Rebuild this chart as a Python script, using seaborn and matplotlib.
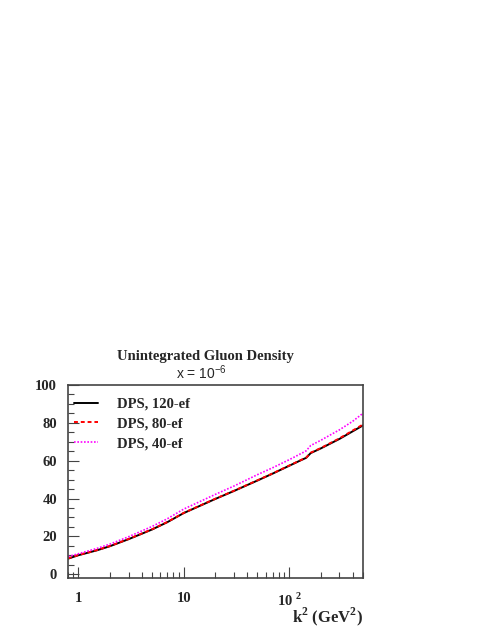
import numpy as np
import pandas as pd
import matplotlib
matplotlib.use("Agg")
import matplotlib.pyplot as plt
import seaborn as sns
from matplotlib.ticker import MultipleLocator, LogLocator, NullFormatter, FixedLocator

# data
k2 = [0.8, 1, 1.5, 2, 3, 5, 7, 10, 20, 30, 50, 70, 100, 130, 145, 160, 200, 300, 400, 500]
dps_120 = [8.2, 10.0, 12.6, 14.8, 18.5, 23.6, 27.5, 32.3, 39.8, 44.0, 49.5, 53.2, 57.3, 60.3, 61.5, 64.0, 66.5, 71.5, 75.5, 78.6]
dps_80 = [8.3, 10.1, 12.7, 14.9, 18.6, 23.7, 27.6, 32.4, 39.9, 44.1, 49.6, 53.3, 57.4, 60.4, 61.6, 64.2, 66.7, 71.8, 75.9, 79.1]
dps_40 = [9.3, 10.8, 13.6, 15.9, 19.8, 25.2, 29.3, 34.4, 42.2, 46.6, 52.6, 56.3, 60.5, 63.8, 65.2, 68.0, 70.8, 76.3, 80.8, 85.0]
labels = ["DPS, 120-ef", "DPS, 80-ef", "DPS, 40-ef"]

df = pd.DataFrame({"k2": k2 * 3,
                   "val": dps_120 + dps_80 + dps_40,
                   "set": [labels[0]] * len(k2) + [labels[1]] * len(k2) + [labels[2]] * len(k2)})

sns.set_style("ticks")
plt.rcParams["font.family"] = ["Liberation Serif", "DejaVu Serif"]
plt.rcParams["mathtext.fontset"] = "custom"
plt.rcParams["mathtext.rm"] = "Liberation Serif:bold"
plt.rcParams["mathtext.bf"] = "Liberation Serif:bold"
plt.rcParams["mathtext.sf"] = "Liberation Sans"

fig = plt.figure(figsize=(4.91, 6.35), dpi=100)
ax = fig.add_axes([0.1385, 0.0898, 0.6005, 0.3039])

styles = {labels[0]: ("black", "-", 1.4),
          labels[1]: ("#ff0000", (0, (2, 1.5)), 1.4),
          labels[2]: ("#ff00ff", (0, (1, 1)), 1.2)}
for name in labels:
    c, ls, lw = styles[name]
    sns.lineplot(data=df[df["set"] == name], x="k2", y="val", ax=ax, color=c,
                 linestyle=ls, linewidth=lw, label=name)

ax.set_xscale("log")
ax.set_xlim(0.8, 500)
ax.set_ylim(-2, 100)

ax.xaxis.set_major_locator(FixedLocator([1, 10, 100]))
ax.xaxis.set_minor_locator(LogLocator(base=10, subs=np.arange(2, 10)))
ax.xaxis.set_minor_formatter(NullFormatter())
ax.set_xticklabels(["1", "10", r"$\mathrm{10}^{\ \mathrm{2}}$"])
ax.yaxis.set_major_locator(MultipleLocator(20))
ax.yaxis.set_minor_locator(MultipleLocator(5))

ax.tick_params(which="both", direction="in", top=False, right=False, width=0.8, color="#444444")
ax.tick_params(which="major", length=8, labelsize=10.5)
ax.tick_params(which="minor", length=4)
ax.tick_params(axis="x", pad=10)
ax.tick_params(axis="y", pad=8)
for lab in ax.get_xticklabels() + ax.get_yticklabels():
    lab.set_fontweight("bold")
for sp in ax.spines.values():
    sp.set_linewidth(1.2)
    sp.set_color("#444444")

ax.set_xlabel("")
ax.set_ylabel("")
fig.text(0.740, 0.028, r"k$^2$ (GeV$^2$)", ha="right", va="center", fontsize=12, fontweight="bold")

fig.text(0.418, 0.439, "Unintegrated Gluon Density", ha="center", va="center", fontsize=10.5, fontweight="bold")
fig.text(0.41, 0.4126, r"x = 10$^{\mathsf{-6}}$", ha="center", va="center", fontsize=10,
         family=["Liberation Sans", "DejaVu Sans"])

leg = ax.legend(loc="upper left", frameon=False, fontsize=10.5, handlelength=1.65, handletextpad=1.3,
                labelspacing=0.45, borderaxespad=0, borderpad=0, bbox_to_anchor=(0.02, 0.935))
for t in leg.get_texts():
    t.set_fontweight("bold")

fig.savefig("out.png", dpi=100)
